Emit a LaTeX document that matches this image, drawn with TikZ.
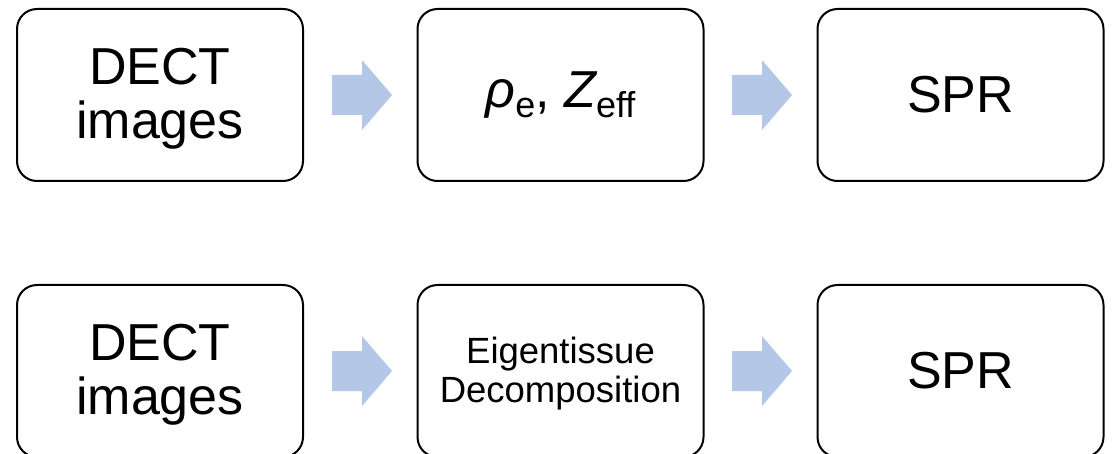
\documentclass[tikz,border=0pt]{standalone}
\usepackage{fontspec}
\setmainfont{Liberation Sans}
\definecolor{arrowblue}{HTML}{B4C7E7}
\newcommand{\blockarrow}[2]{%
  \fill[arrowblue] (#1,#2-20) -- (#1+30,#2-20) -- (#1+30,#2-35) -- (#1+60,#2)
    -- (#1+30,#2+35) -- (#1+30,#2+20) -- (#1,#2+20) -- cycle;}
\newcommand{\topstrut}[1]{\rule{0pt}{#1}}
\begin{document}
\begin{tikzpicture}[x=1pt,y=-1pt,
  box/.style={draw=black, line width=2pt, rounded corners=20pt, fill=white,
    minimum width=286pt, minimum height=172pt, align=center, inner sep=0pt},
  big/.style={font=\fontsize{52}{54}\selectfont},
  small/.style={font=\fontsize{36.5}{39}\selectfont}]
\clip (0,0) rectangle (1116,454);
\fill[white] (0,0) rectangle (1116,454);
% top row
\node[box, big] (a1) at (160,95) {\topstrut{44pt}DECT\\images};
\node[box, big] (b1) at (560.5,95) {\itshape ρ\raisebox{-0.2em}{\upshape\fontsize{36}{36}\selectfont e}\upshape, \itshape Z\raisebox{-0.2em}{\upshape\fontsize{36}{36}\selectfont eff}};
\node[box, big] (c1) at (960.5,95) {SPR};
% bottom row
\node[box, big] (a2) at (160,371) {\topstrut{44pt}DECT\\images};
\node[box, small] (b2) at (560.5,371) {\topstrut{32pt}Eigentissue\\Decomposition};
\node[box, big] (c2) at (960.5,371) {SPR};
% arrows
\blockarrow{332}{95}
\blockarrow{732}{95}
\blockarrow{332}{371}
\blockarrow{732}{371}
\end{tikzpicture}
\end{document}
